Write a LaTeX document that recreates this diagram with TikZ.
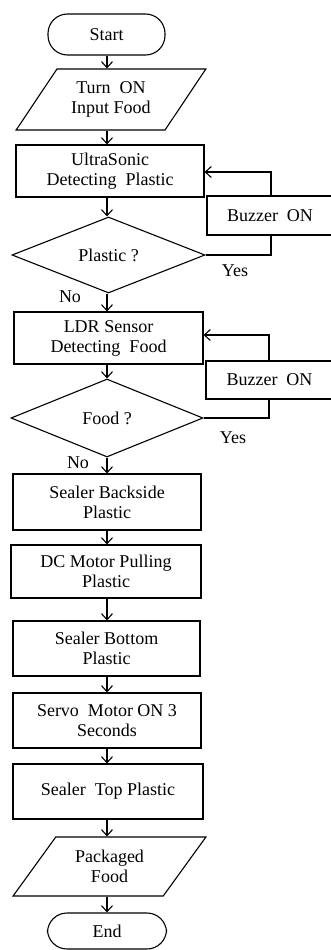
\documentclass[tikz,border=0pt]{standalone}
\usepackage{fontspec}
\setmainfont{Liberation Serif}
\usetikzlibrary{shapes.geometric,arrows.meta}
\begin{document}
\begin{tikzpicture}[x=1pt,y=-1pt,
  every node/.style={font=\fontsize{18}{20}\selectfont, align=center, inner sep=0pt},
  ln/.style={line width=1.1pt},
  box/.style={draw, ln, rectangle},
  term/.style={draw, ln, rectangle, rounded corners=19.5pt},
  io/.style={draw, ln, trapezium, trapezium left angle=50, trapezium right angle=130, trapezium stretches=true},
  dec/.style={draw, ln, diamond, shape aspect=2.5},
  arr/.style={ln, -{Straight Barb[length=6pt,width=11pt,line width=1.1pt]}},
  lbl/.style={font=\fontsize{18}{20}\selectfont}
]
\useasboundingbox (0,0) rectangle (331,950);
\coordinate (col) at (107,0);

\node[term, minimum width=117, minimum height=41] (start) at (106.5,34.5) {Start};
\node[io, minimum width=190, minimum height=61] (in) at (111,99.5) {Turn \ ON\\Input Food};
\node[box, minimum width=188, minimum height=52] (us) at (110,171) {UltraSonic\\Detecting \ Plastic};
\node[dec, minimum width=193, minimum height=76] (pl) at (108.5,255) {Plastic ?};
\node[box, minimum width=126, minimum height=39] (bz1) at (270,215.5) {Buzzer \ ON};
\node[box, minimum width=189, minimum height=52] (ldr) at (108.5,338) {LDR Sensor\\Detecting \ Food};
\node[dec, minimum width=192, minimum height=78] (fd) at (107,418) {Food ?};
\node[box, minimum width=127, minimum height=38] (bz2) at (269.5,380) {Buzzer \ ON};
\node[box, minimum width=188, minimum height=56] (sb) at (107,502) {Sealer Backside\\Plastic};
\node[box, minimum width=190, minimum height=53] (dc) at (106,571.5) {DC Motor Pulling\\Plastic};
\node[box, minimum width=187, minimum height=55] (sbot) at (106.5,648.5) {Sealer Bottom\\Plastic};
\node[box, minimum width=188, minimum height=55] (servo) at (107,720.5) {Servo \ Motor ON 3\\Seconds};
\node[box, minimum width=190, minimum height=55] (stop) at (108,791.5) {Sealer \ Top Plastic};
\node[io, minimum width=193, minimum height=59] (out) at (109.5,866.5) {Packaged\\Food};
\node[term, minimum width=119, minimum height=36] (end) at (107,931) {End};

\node[lbl] (yes1) at (235,271) {Yes};
\node[lbl] (no1) at (70,297) {No};
\node[lbl] (yes2) at (233,438) {Yes};
\node[lbl] (no2) at (78,463) {No};

\draw[arr] (col |- start.south) -- (col |- in.north);
\draw[arr] (col |- in.south) -- (col |- us.north);
\draw[arr] (col |- us.south) -- (col |- pl.north);
\draw[arr] (col |- pl.south) -- (col |- ldr.north);
\draw[arr] (col |- ldr.south) -- (col |- fd.north);
\draw[arr] (col |- fd.south) -- (col |- sb.north);
\draw[arr] (col |- sb.south) -- (col |- dc.north);
\draw[arr] (col |- dc.south) -- (col |- sbot.north);
\draw[arr] (col |- sbot.south) -- (col |- servo.north);
\draw[arr] (col |- servo.south) -- (col |- stop.north);
\draw[arr] (col |- stop.south) -- (col |- out.north);
\draw[arr] (col |- out.south) -- (col |- end.north);

\coordinate (v1) at (271,0);
\coordinate (v2) at (269,0);
\draw[ln] (pl.east) -- (v1 |- pl.east) -- (v1 |- bz1.south);
\draw[arr] (v1 |- bz1.north) -- (v1 |- 0,172) -- (us.east |- 0,172);
\draw[ln] (fd.east) -- (v2 |- fd.east) -- (v2 |- bz2.south);
\draw[arr] (v2 |- bz2.north) -- (v2 |- 0,335) -- (ldr.east |- 0,335);
\end{tikzpicture}
\end{document}
